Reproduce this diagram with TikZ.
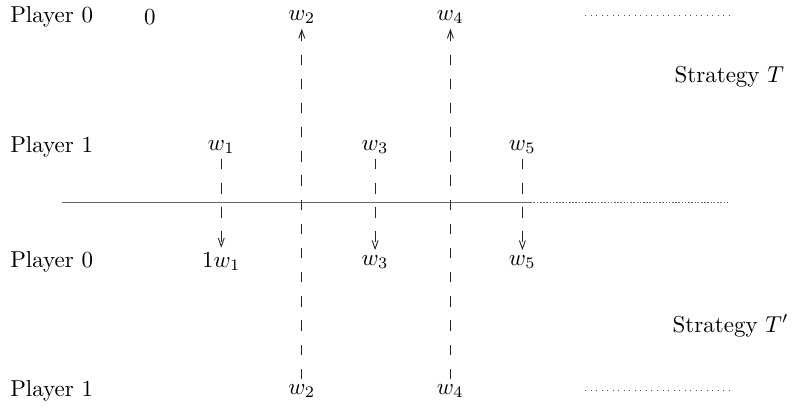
\documentclass[tikz,border=0pt]{standalone}
\usepackage{amsmath,amssymb}
\usetikzlibrary{arrows.meta, positioning, calc}

\begin{document}
\begin{tikzpicture}[
    font=\normalsize,
    >={Straight Barb[length=3.6pt, width=2.6pt]},
    lbl/.style={inner sep=2pt},
    who/.style={anchor=west, inner sep=0pt},
    move/.style={->, draw=black!85, dash pattern=on 4.5pt off 6pt},
    cut/.style={draw=black!60, line width=0.5pt},
    tail/.style={draw=black!70, dotted},
    ctail/.style={draw=black!60, line width=0.5pt, dash pattern=on 0.7pt off 0.7pt},
  ]
  \useasboundingbox (0,0) rectangle (12.16,-6.22);
  % ---- strategy T (top)
  \node[who] (p0a) at (0.15,-0.26) {Player 0};
  \node[lbl] (zero) at (2.29,-0.26) {$0$};
  \node[lbl] (w2a) at (4.61,-0.26) {$w_2$};
  \node[lbl] (w4a) at (6.88,-0.26) {$w_4$};
  \node[who] (p1a) at (0.15,-2.25) {Player 1};
  \node[lbl] (w1a) at (3.38,-2.25) {$w_1$};
  \node[lbl] (w3a) at (5.73,-2.25) {$w_3$};
  \node[lbl] (w5a) at (7.98,-2.25) {$w_5$};
  \node (st) at (11.14,-1.18) {Strategy $T$};
  % ---- strategy T' (bottom)
  \node[who] (p0b) at (0.15,-4.00) {Player 0};
  \node[lbl] (w1b) at (3.38,-4.00) {$1w_1$};
  \node[lbl] (w3b) at (5.73,-4.00) {$w_3$};
  \node[lbl] (w5b) at (7.98,-4.00) {$w_5$};
  \node[who] (p1b) at (0.15,-5.97) {Player 1};
  \node[lbl] (w2b) at (4.61,-5.97) {$w_2$};
  \node[lbl] (w4b) at (6.88,-5.97) {$w_4$};
  \node (stp) at (11.16,-4.98) {Strategy $T'$};
  % ---- separating line and tails
  \coordinate (cutL) at (0.95,-3.10);
  \coordinate (cutM) at (8.10,-3.10);
  \coordinate (cutR) at (11.11,-3.10);
  \coordinate (topL) at (8.94,-0.23);
  \coordinate (topR) at (11.15,-0.23);
  \coordinate (botL) at (8.94,-5.96);
  \coordinate (botR) at (11.15,-5.96);
  \draw[cut] (cutL) -- (cutM);
  \draw[ctail] (cutM) -- (cutR);
  \draw[tail] (topL) -- (topR);
  \draw[tail] (botL) -- (botR);
  % ---- moves
  \draw[move] (w1a) -- (w1b);
  \draw[move] (w3a) -- (w3b);
  \draw[move] (w5a) -- (w5b);
  \draw[move] (w2b) -- (w2a);
  \draw[move] (w4b) -- (w4a);
\end{tikzpicture}
\end{document}
